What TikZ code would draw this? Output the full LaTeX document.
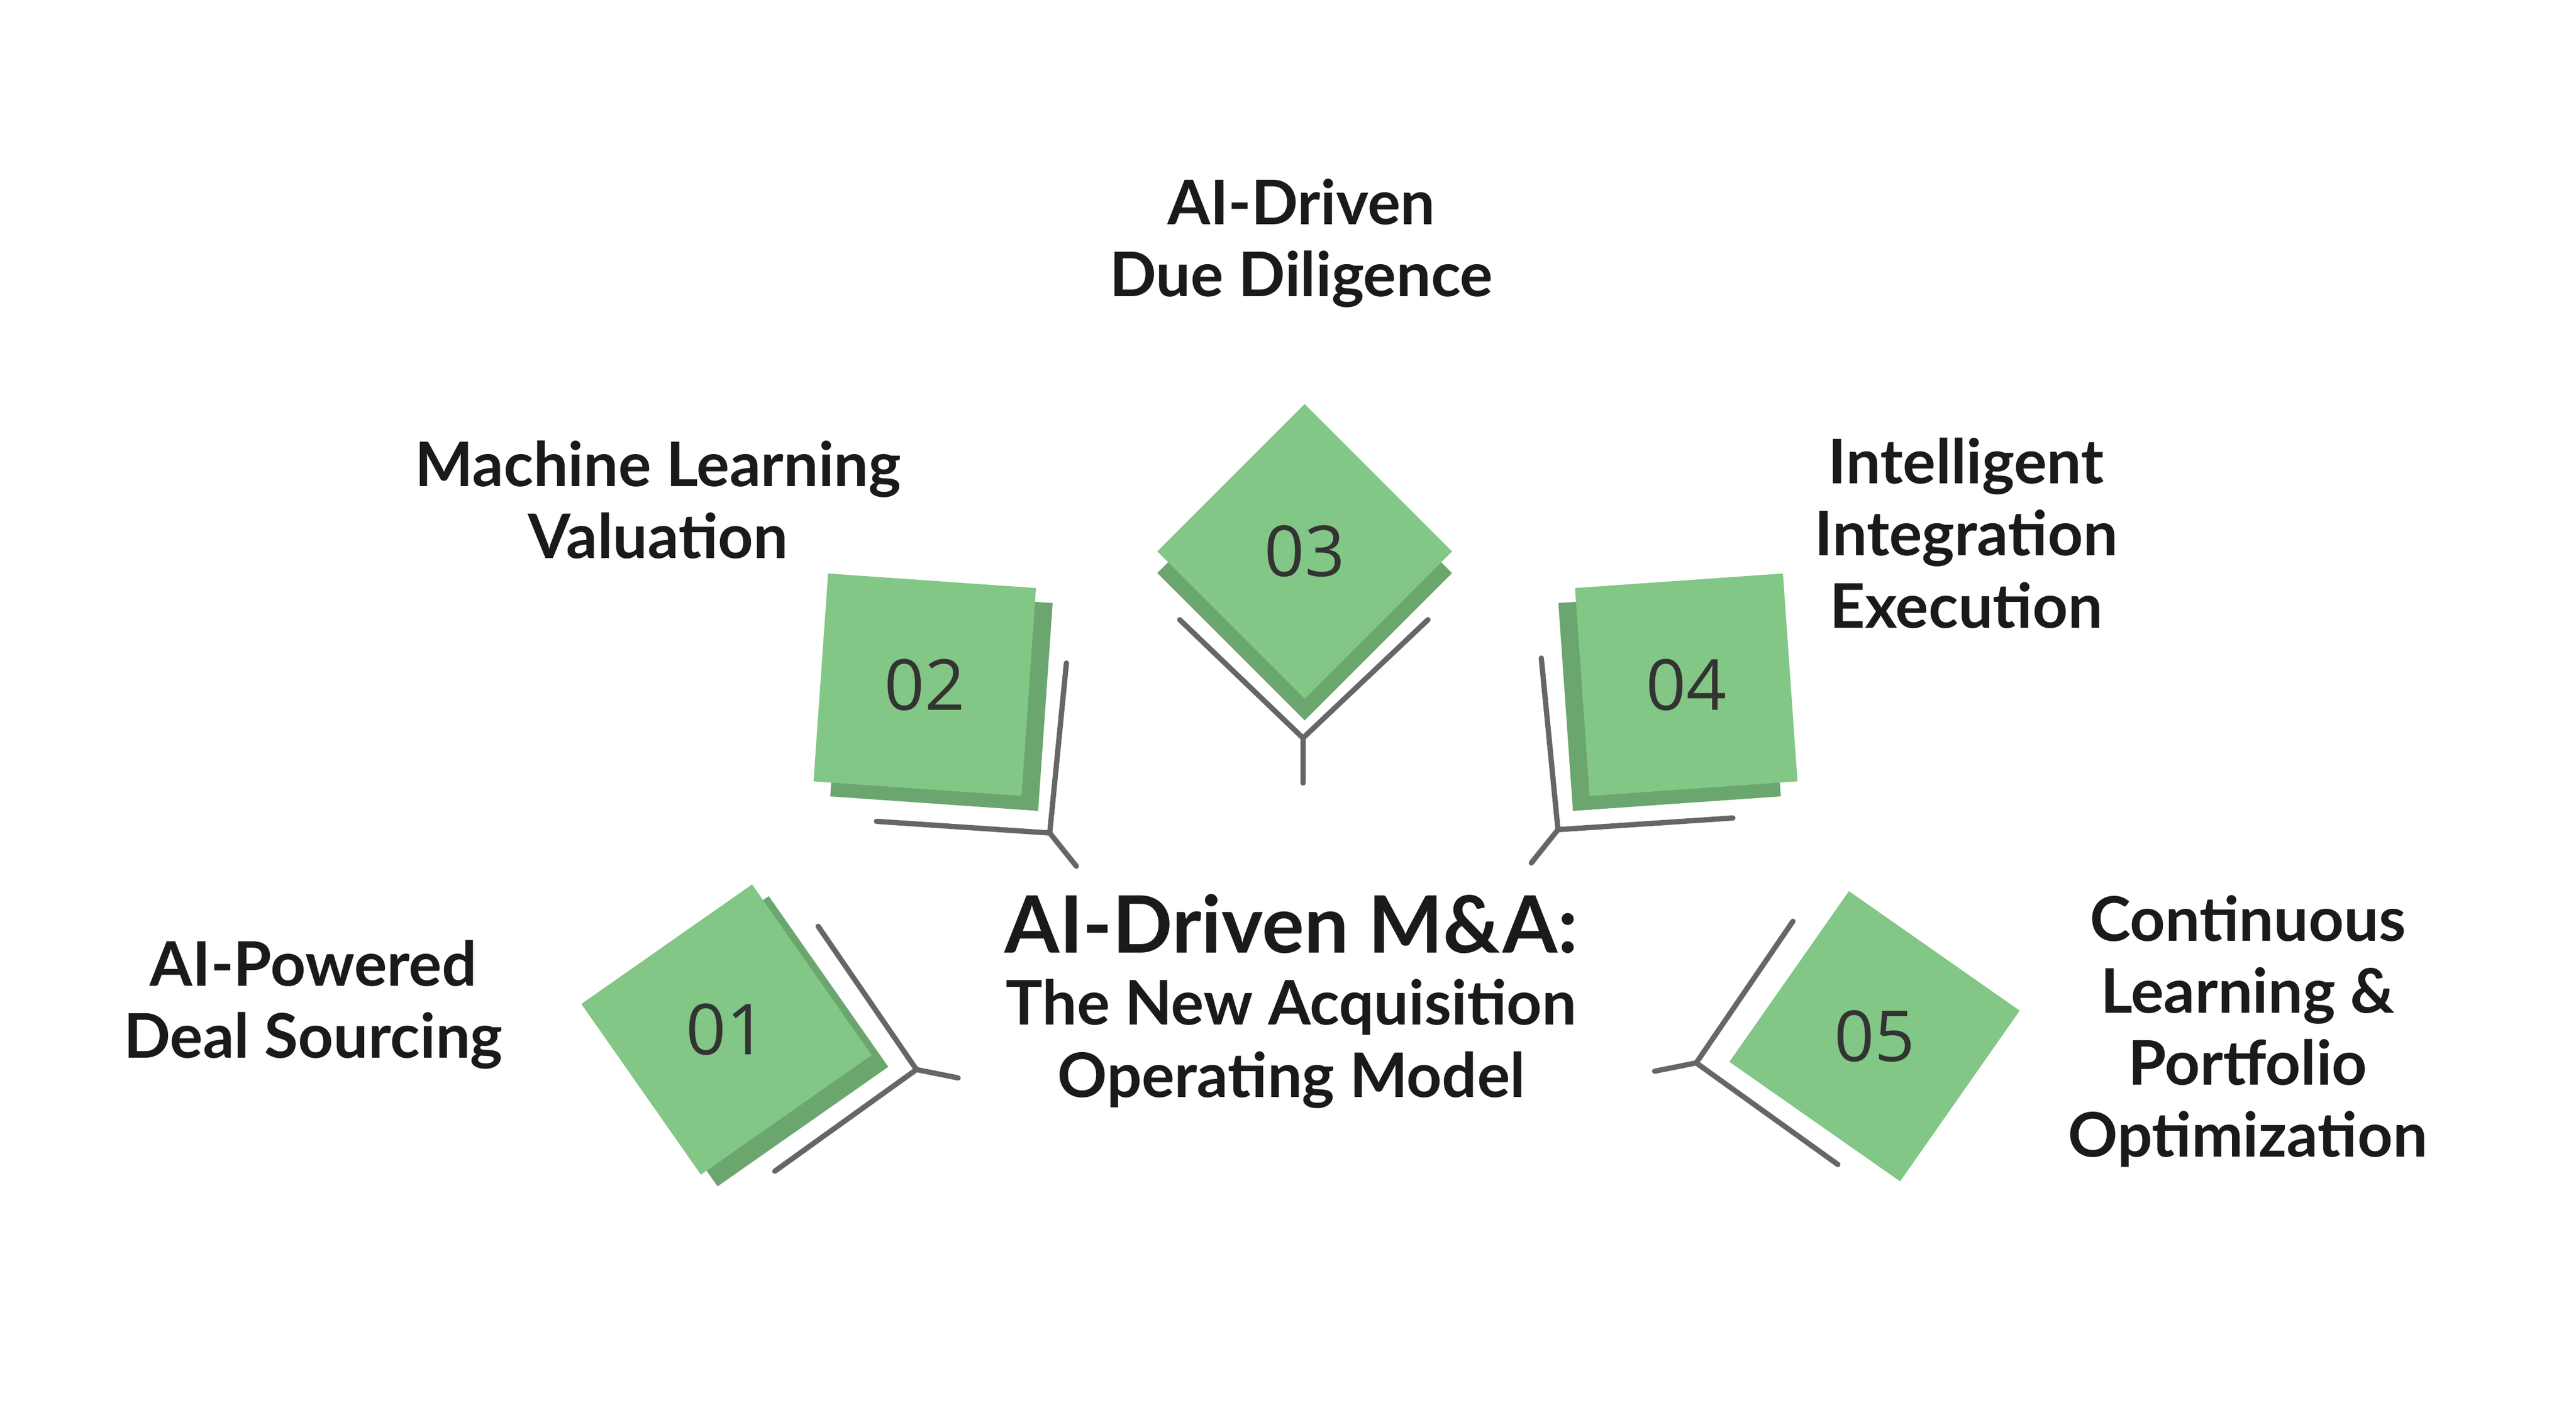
\documentclass[tikz,border=0pt]{standalone}
\usepackage{fontspec}
\setmainfont{Lato}
\newfontfamily\numfont{Open Sans}
\usepackage{tikz}
\definecolor{tileLight}{HTML}{82C785}
\definecolor{tileDark}{HTML}{6BA66E}
\definecolor{lineGray}{HTML}{666666}
\definecolor{textDark}{HTML}{1A1A1A}
\begin{document}
\begin{tikzpicture}[x=0.01cm,y=0.01cm,
    tile/.style={draw=none, minimum size=1.25cm, inner sep=0pt, fill=tileLight},
    shade/.style={tile, fill=tileDark},
    num/.style={font=\numfont\fontsize{12}{14}\selectfont, text=black!80},
    label/.style={font=\bfseries\fontsize{10.5}{12.3}\selectfont, align=center, text=textDark},
    link/.style={draw=lineGray, line width=0.9pt, line cap=round}]
    \useasboundingbox (0,0) rectangle (1546,843);
    % tiles (y = 843 - image row)
    \node[shade, rotate=35] (s1) at (446,218) {};
    \node[tile, rotate=35] (t1) at (436,225) {};
    \node[num] (n1) at (t1) {01};
    \node[shade, rotate=-4] (s2) at (565,423) {};
    \node[tile, rotate=-4] (t2) at (555,432) {};
    \node[num] (n2) at (t2) {02};
    \node[shade, rotate=45] (s3) at (783,499) {};
    \node[tile, rotate=45] (t3) at (783,512) {};
    \node[num] (n3) at (t3) {03};
    \node[shade, rotate=4] (s4) at (1002,423) {};
    \node[tile, rotate=4] (t4) at (1012,432) {};
    \node[num] (n4) at (t4) {04};
    \node[tile, rotate=55] (t5) at (1125,221) {};
    \node[num] (n5) at (t5) {05};
    % connectors
    \coordinate (j1) at (550,201);
    \coordinate (a1) at (491,287);
    \coordinate (b1) at (465,140);
    \coordinate (c1) at (575,196);
    \coordinate (j2) at (630,343);
    \coordinate (a2) at (640,445);
    \coordinate (b2) at (526,350);
    \coordinate (c2) at (646,323);
    \coordinate (j3) at (782,400);
    \coordinate (a3) at (708,471);
    \coordinate (b3) at (857,471);
    \coordinate (c3) at (782,373);
    \coordinate (j4) at (935,345);
    \coordinate (a4) at (925,448);
    \coordinate (b4) at (1040,352);
    \coordinate (c4) at (919,325);
    \coordinate (j5) at (1018,205);
    \coordinate (a5) at (1076,290);
    \coordinate (b5) at (1103,144);
    \coordinate (c5) at (993,200);
    \foreach \i in {1,...,5}
        \draw[link] (a\i) -- (j\i) -- (b\i) (j\i) -- (c\i);
    % labels
    \node[label] (title) at (775,242)
        {\fontsize{13.5}{16.5}\selectfont AI-Driven M\&A:\\The New Acquisition\\Operating Model};
    \node[label] (l1) at (188,240) {AI-Powered\\Deal Sourcing};
    \node[label] (l2) at (395,543) {Machine Learning\\Valuation};
    \node[label] (l3) at (781,697) {AI-Driven\\Due Diligence};
    \node[label] (l4) at (1180,523) {Intelligent\\Integration\\Execution};
    \node[label] (l5) at (1349,224) {Continuous\\Learning \&\\Portfolio\\Optimization};
\end{tikzpicture}
\end{document}
